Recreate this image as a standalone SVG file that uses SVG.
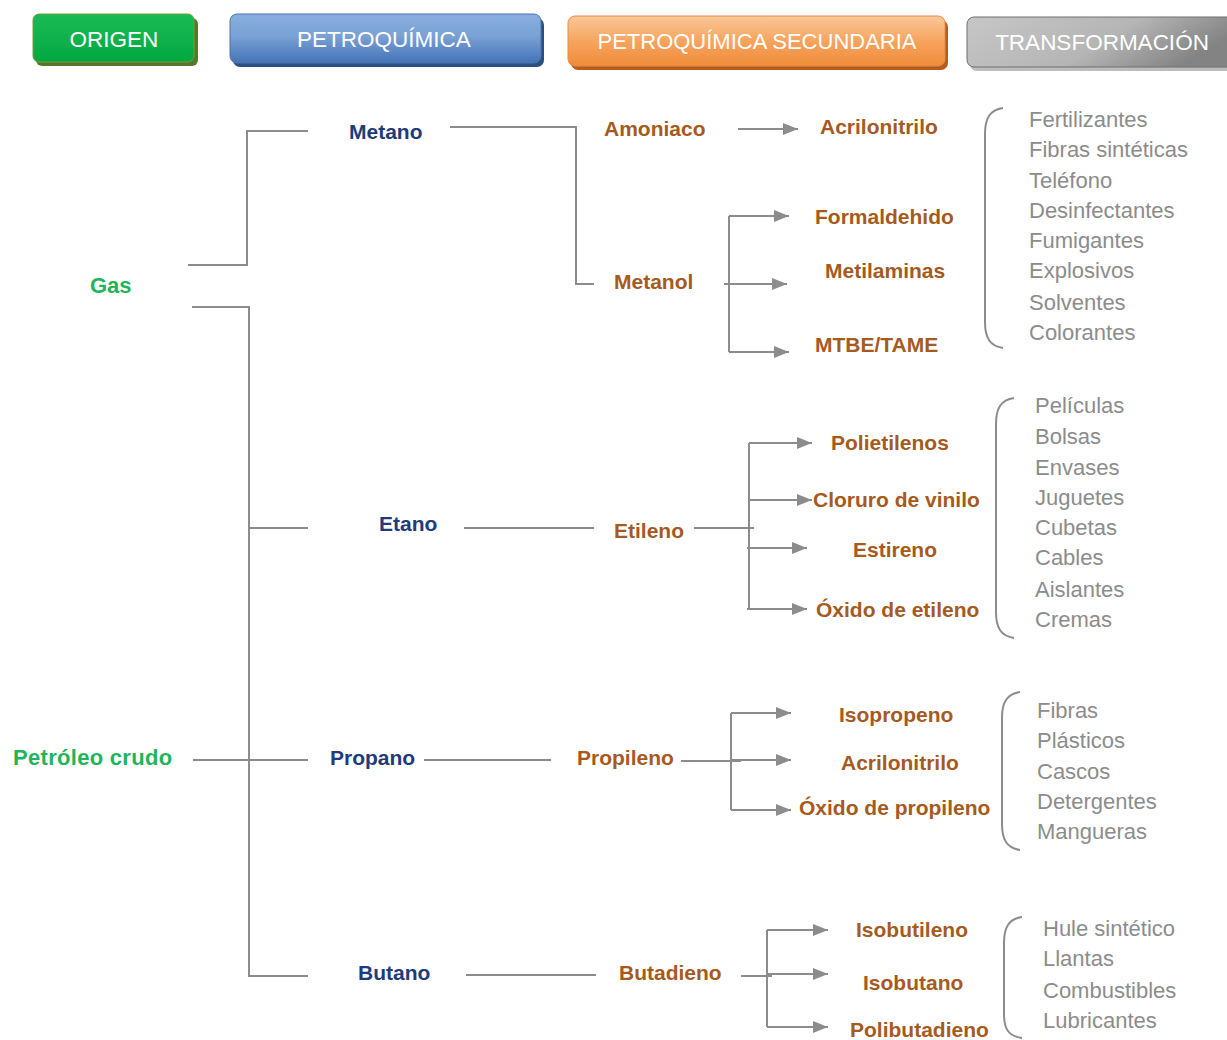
<svg xmlns="http://www.w3.org/2000/svg" width="1227" height="1040" viewBox="0 0 1227 1040">
<style>
text{font-family:"Liberation Sans",Arial,sans-serif}
.h{font-size:22.5px;fill:#ffffff;text-anchor:middle}
.l{font-size:21px;font-weight:bold}
.g{fill:#1fb55a;font-size:22px}
.b{fill:#1f3b7b}
.o{fill:#a65a1e}
.t{font-size:22px;fill:#8c8c8c}
.ln{stroke:#8c8c8c;stroke-width:2;fill:none}
.ar{stroke:#8c8c8c;stroke-width:2;fill:none;marker-end:url(#ah)}
.br{stroke:#8c8c8c;stroke-width:2;fill:none}
</style>
<defs>
<marker id="ah" markerUnits="userSpaceOnUse" markerWidth="15" markerHeight="12" refX="15" refY="6" orient="auto">
<path d="M0,0 L15,6 L0,12 z" fill="#8c8c8c"/>
</marker>
<linearGradient id="gg" x1="0" y1="0" x2="0" y2="1">
<stop offset="0" stop-color="#1abb55"/><stop offset="1" stop-color="#03a843"/>
</linearGradient>
<linearGradient id="gb" x1="0" y1="0" x2="0" y2="1">
<stop offset="0" stop-color="#8aaede"/><stop offset="0.45" stop-color="#7aa1d6"/><stop offset="1" stop-color="#4473b6"/>
</linearGradient>
<linearGradient id="go" x1="0" y1="0" x2="0" y2="1">
<stop offset="0" stop-color="#fbc898"/><stop offset="0.5" stop-color="#f6a45e"/><stop offset="1" stop-color="#f08b3a"/>
</linearGradient>
<linearGradient id="gy" x1="0" y1="0" x2="1" y2="0.3">
<stop offset="0" stop-color="#c6c6c6"/><stop offset="0.6" stop-color="#b5b5b5"/><stop offset="1" stop-color="#838383"/>
</linearGradient>
</defs>
<rect width="1227" height="1040" fill="#ffffff"/>

<g id="hdr-origen">
<rect x="36" y="18" width="162" height="48" rx="6" fill="#55792a"/>
<rect x="33" y="14" width="161" height="48" rx="6" fill="url(#gg)" stroke="#7a9a3a" stroke-width="1"/>
<text class="h" x="114" y="47">ORIGEN</text>
</g>
<g id="hdr-petroquimica">
<rect x="233" y="18" width="311" height="49" rx="7" fill="#2c4f82"/>
<rect x="230" y="14" width="311" height="49" rx="7" fill="url(#gb)" stroke="#4d75ad" stroke-width="1"/>
<text class="h" x="384" y="47">PETROQUÍMICA</text>
</g>
<g id="hdr-secundaria">
<rect x="571" y="20" width="377" height="50" rx="7" fill="#b65c1c"/>
<rect x="568" y="16" width="377" height="50" rx="7" fill="url(#go)" stroke="#e98a45" stroke-width="1"/>
<text class="h" x="757" y="49" style="font-size:22px">PETROQUÍMICA SECUNDARIA</text>
</g>
<g id="hdr-transformacion">
<rect x="970" y="21" width="270" height="50" rx="7" fill="#a0a0a0" opacity="0.7"/>
<rect x="967" y="17" width="270" height="50" rx="7" fill="url(#gy)" stroke="#6e6e6e" stroke-width="1"/>
<text class="h" x="1102" y="50">TRANSFORMACIÓN</text>
</g>

<g id="connectors">
<polyline class="ln" points="188,265 247,265 247,131 308,131"/>
<polyline class="ln" points="192,307 249,307 249,976 308,976"/>
<line class="ln" x1="249" y1="528" x2="308" y2="528"/>
<line class="ln" x1="193" y1="760" x2="308" y2="760"/>
<polyline class="ln" points="450,127 576,127 576,284 594,284"/>
<line class="ar" x1="738" y1="129" x2="798" y2="129"/>
<line class="ln" x1="729" y1="216" x2="729" y2="352"/>
<line class="ar" x1="729" y1="216" x2="789" y2="216"/>
<line class="ar" x1="724" y1="284" x2="787" y2="284"/>
<line class="ar" x1="729" y1="352" x2="789" y2="352"/>
<line class="ln" x1="464" y1="528" x2="594" y2="528"/>
<line class="ln" x1="694" y1="528" x2="754" y2="528"/>
<line class="ln" x1="749" y1="443" x2="749" y2="609"/>
<line class="ar" x1="749" y1="443" x2="812" y2="443"/>
<line class="ar" x1="749" y1="500" x2="812" y2="500"/>
<line class="ar" x1="747" y1="548" x2="807" y2="548"/>
<line class="ar" x1="747" y1="609" x2="807" y2="609"/>
<line class="ln" x1="424" y1="760" x2="551" y2="760"/>
<line class="ln" x1="681" y1="761" x2="741" y2="761"/>
<line class="ln" x1="731" y1="713" x2="731" y2="810"/>
<line class="ar" x1="731" y1="713" x2="791" y2="713"/>
<line class="ar" x1="731" y1="760" x2="791" y2="760"/>
<line class="ar" x1="731" y1="810" x2="791" y2="810"/>
<line class="ln" x1="466" y1="975" x2="596" y2="975"/>
<line class="ln" x1="741" y1="976" x2="772" y2="976"/>
<line class="ln" x1="767" y1="930" x2="767" y2="1027"/>
<line class="ar" x1="767" y1="930" x2="828" y2="930"/>
<line class="ar" x1="767" y1="974" x2="828" y2="974"/>
<line class="ar" x1="767" y1="1027" x2="828" y2="1027"/>
</g>

<g id="brackets">
<path class="br" d="M1003,108 C990,110 985,118 985,134 L985,322 C985,338 990,346 1003,348"/>
<path class="br" d="M1014,398 C1001,400 996,408 996,424 L996,612 C996,628 1001,636 1014,638"/>
<path class="br" d="M1020,692 C1007,694 1002,702 1002,718 L1002,824 C1002,840 1007,848 1020,850"/>
<path class="br" d="M1022,917 C1009,919 1004,927 1004,943 L1004,1014 C1004,1030 1009,1036 1022,1038"/>
</g>

<g id="n-gas"><text class="l g" x="90" y="293">Gas</text></g>
<g id="n-petroleo"><text class="l g" x="13" y="765" style="letter-spacing:0.3px">Petróleo crudo</text></g>

<g id="n-metano"><text class="l b" x="349" y="139">Metano</text></g>
<g id="n-etano"><text class="l b" x="379" y="531">Etano</text></g>
<g id="n-propano"><text class="l b" x="330" y="765">Propano</text></g>
<g id="n-butano"><text class="l b" x="358" y="980">Butano</text></g>

<g id="n-amoniaco"><text class="l o" x="604" y="136">Amoniaco</text></g>
<g id="n-metanol"><text class="l o" x="614" y="289">Metanol</text></g>
<g id="n-etileno"><text class="l o" x="614" y="538">Etileno</text></g>
<g id="n-propileno"><text class="l o" x="577" y="765">Propileno</text></g>
<g id="n-butadieno"><text class="l o" x="619" y="980">Butadieno</text></g>

<g id="n-acrilonitrilo1"><text class="l o" x="820" y="134">Acrilonitrilo</text></g>
<g id="n-formaldehido"><text class="l o" x="815" y="224">Formaldehido</text></g>
<g id="n-metilaminas"><text class="l o" x="825" y="278">Metilaminas</text></g>
<g id="n-mtbe"><text class="l o" x="815" y="352">MTBE/TAME</text></g>
<g id="n-polietilenos"><text class="l o" x="831" y="450">Polietilenos</text></g>
<g id="n-cloruro"><text class="l o" x="813" y="507">Cloruro de vinilo</text></g>
<g id="n-estireno"><text class="l o" x="853" y="557">Estireno</text></g>
<g id="n-oxidoetileno"><text class="l o" x="816" y="617">Óxido de etileno</text></g>
<g id="n-isopropeno"><text class="l o" x="839" y="722">Isopropeno</text></g>
<g id="n-acrilonitrilo2"><text class="l o" x="841" y="770">Acrilonitrilo</text></g>
<g id="n-oxidopropileno"><text class="l o" x="799" y="815">Óxido de propileno</text></g>
<g id="n-isobutileno"><text class="l o" x="856" y="937">Isobutileno</text></g>
<g id="n-isobutano"><text class="l o" x="863" y="990">Isobutano</text></g>
<g id="n-polibutadieno"><text class="l o" x="850" y="1037">Polibutadieno</text></g>

<g id="uses-metano">
<text class="t" x="1029" y="127">Fertilizantes</text>
<text class="t" x="1029" y="157">Fibras sintéticas</text>
<text class="t" x="1029" y="188">Teléfono</text>
<text class="t" x="1029" y="218">Desinfectantes</text>
<text class="t" x="1029" y="248">Fumigantes</text>
<text class="t" x="1029" y="278">Explosivos</text>
<text class="t" x="1029" y="310">Solventes</text>
<text class="t" x="1029" y="340">Colorantes</text>
</g>
<g id="uses-etano">
<text class="t" x="1035" y="413">Películas</text>
<text class="t" x="1035" y="444">Bolsas</text>
<text class="t" x="1035" y="475">Envases</text>
<text class="t" x="1035" y="505">Juguetes</text>
<text class="t" x="1035" y="535">Cubetas</text>
<text class="t" x="1035" y="565">Cables</text>
<text class="t" x="1035" y="597">Aislantes</text>
<text class="t" x="1035" y="627">Cremas</text>
</g>
<g id="uses-propano">
<text class="t" x="1037" y="718">Fibras</text>
<text class="t" x="1037" y="748">Plásticos</text>
<text class="t" x="1037" y="779">Cascos</text>
<text class="t" x="1037" y="809">Detergentes</text>
<text class="t" x="1037" y="839">Mangueras</text>
</g>
<g id="uses-butano">
<text class="t" x="1043" y="936">Hule sintético</text>
<text class="t" x="1043" y="966">Llantas</text>
<text class="t" x="1043" y="998">Combustibles</text>
<text class="t" x="1043" y="1028">Lubricantes</text>
</g>
</svg>
